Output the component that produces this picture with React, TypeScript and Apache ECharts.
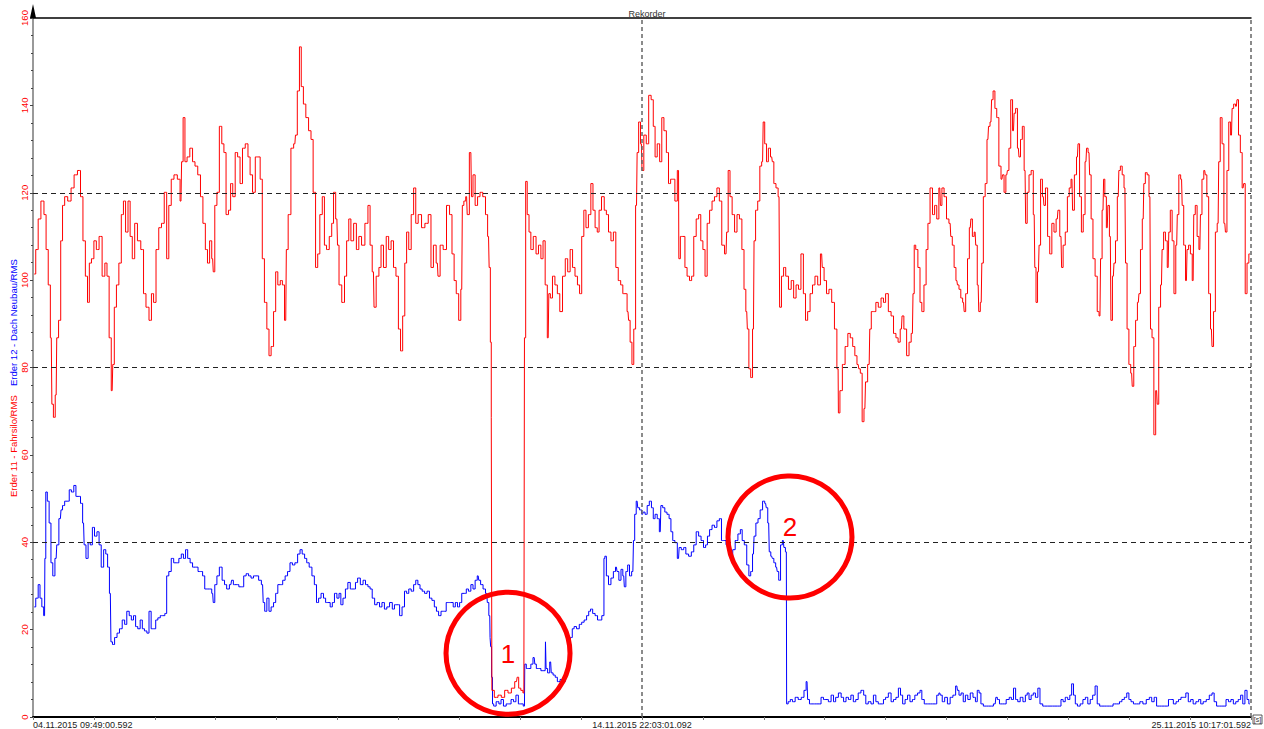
import React, { useEffect, useRef } from "react";
import * as echarts from "echarts";

// x unit = one tick division (span of 20 divisions over the record)
const xTickLabels = ["04.11.2015 09:49:00.592", "14.11.2015 22:03:01.092", "25.11.2015 10:17:01.592"];
const xLabelAt = [0, 10, 20];
const guideLevels = [40, 80, 120];
const cursorAt = 10;
const rightEdgeAt = 20;
const redName = "Erder 11 - Fahrsilo/RMS";
const blueName = "Erder 12 - Dach Neubau/RMS";

// Erder 11 - Fahrsilo/RMS  [t, value]
const erder11: number[][] = [
  [0.02,101.4],[0.07,107],[0.10,114],[0.16,118.1],[0.20,115],[0.23,107],[0.27,98.9],[0.30,86.8],[0.32,71.6],[0.35,68.6],[0.38,73.7],[0.40,86.8],[0.44,90.8],[0.47,109],[0.50,117.1],[0.54,119.1],[0.60,118.1],[0.65,121.1],[0.70,124.1],[0.76,125.1],[0.80,119.1],[0.84,109],[0.88,100.9],[0.91,94.9],[0.94,103.9],[0.98,104.9],[1.02,109],[1.06,107],[1.11,110],[1.16,100.9],[1.20,103.9],[1.23,100.9],[1.27,86.8],[1.30,74.7],[1.32,80.7],[1.35,93.8],[1.39,98.9],[1.43,103.9],[1.47,115],[1.50,118.1],[1.54,111],[1.58,118.1],[1.61,110],[1.65,104.9],[1.69,113],[1.74,109],[1.80,107],[1.83,96.9],[1.88,93.8],[1.93,90.8],[1.96,96.9],[2.00,94.9],[2.04,107],[2.09,112],[2.13,113],[2.18,120.1],[2.21,104.9],[2.25,117.1],[2.29,123.1],[2.34,124.1],[2.40,123.1],[2.43,118.1],[2.45,127.1],[2.48,137.2],[2.51,127.1],[2.55,128.2],[2.60,130.2],[2.64,127.1],[2.68,126.1],[2.73,124.1],[2.77,119.1],[2.81,113],[2.85,107],[2.88,103.9],[2.92,109],[2.95,104.9],[2.97,101.9],[3.00,117.1],[3.04,120.1],[3.08,135.2],[3.12,131.2],[3.15,129.2],[3.19,115],[3.23,116],[3.26,122.1],[3.30,119.1],[3.34,129.2],[3.38,128.2],[3.42,122.1],[3.46,130.2],[3.51,131.2],[3.55,128.2],[3.58,124.1],[3.63,120.1],[3.67,128.2],[3.71,128.2],[3.75,123.1],[3.78,104.9],[3.82,94.9],[3.86,88.8],[3.89,82.7],[3.93,84.8],[3.97,92.8],[4.00,101.9],[4.04,98.9],[4.08,99.9],[4.11,98.9],[4.15,90.8],[4.17,107],[4.21,115],[4.26,130.2],[4.30,131.2],[4.32,133.2],[4.36,143.3],[4.39,153.4],[4.42,144.3],[4.46,140.3],[4.50,137.2],[4.55,134.2],[4.58,132.2],[4.62,120.1],[4.66,102.9],[4.69,106],[4.73,115],[4.77,119.1],[4.80,108],[4.84,107],[4.89,110],[4.92,113],[4.95,120.1],[4.99,114],
  [5.01,108],[5.04,98.9],[5.10,94.9],[5.13,100.9],[5.17,109],[5.20,114],[5.24,109],[5.29,113],[5.33,107],[5.37,110],[5.42,108],[5.48,113],[5.52,117.1],[5.55,108],[5.59,101.9],[5.61,93.8],[5.66,100.9],[5.70,102.9],[5.73,108],[5.78,102.9],[5.82,110],[5.86,107],[5.90,109],[5.94,102.9],[5.98,100.9],[6.02,88.8],[6.05,83.8],[6.09,91.8],[6.12,103.9],[6.15,111],[6.19,107],[6.23,115],[6.27,121.1],[6.30,113],[6.35,115],[6.41,112],[6.46,113],[6.52,115],[6.55,102.9],[6.60,108],[6.64,103.9],[6.66,100.9],[6.71,108],[6.76,107],[6.82,117.1],[6.86,115],[6.90,106],[6.93,99.9],[6.97,96.9],[7.01,90.8],[7.04,97.9],[7.06,117.1],[7.09,118.1],[7.12,119.1],[7.14,115],[7.19,129.2],[7.21,119.1],[7.24,124.1],[7.28,117.1],[7.32,119.1],[7.36,120.1],[7.41,119.1],[7.45,115],[7.48,110],[7.50,102.9],[7.52,85.8],[7.53,68.6],[7.54,6.1],[7.61,4.5],[7.66,5],[7.72,4.5],[7.77,6.1],[7.83,5.5],[7.88,6.6],[7.94,8.1],[7.96,9.1],[7.99,6.6],[8.03,6.1],[8.06,5.5],[8.08,86.8],[8.10,122.6],[8.13,115],[8.16,111],[8.19,107],[8.24,110],[8.28,106],[8.32,108],[8.36,104.9],[8.39,109],[8.43,98.9],[8.46,86.8],[8.48,96.9],[8.51,95.9],[8.55,100.9],[8.59,98.9],[8.63,96.9],[8.67,92.8],[8.72,100.9],[8.76,104.9],[8.80,101.9],[8.84,107],[8.88,102.9],[8.92,100.9],[8.96,98.9],[8.99,96.9],[9.03,110],[9.06,116],[9.10,112],[9.14,115],[9.18,122.1],[9.21,116],[9.25,112],[9.28,111],[9.31,116],[9.36,119.1],[9.40,116],[9.43,115],[9.47,111],[9.51,109],[9.55,111],[9.59,102.9],[9.63,99.9],[9.67,98.9],[9.70,96.9],[9.74,96.9],[9.77,92.8],[9.79,90.8],[9.82,85.8],[9.85,80.7],[9.88,88.8],[9.91,117.1],[9.93,129.2],[9.96,136.2],[9.99,131.2],[10.01,125.1],
  [10.05,133.2],[10.09,131.2],[10.13,142.3],[10.17,141.3],[10.20,135.2],[10.23,128.2],[10.27,131.2],[10.31,127.1],[10.34,137.2],[10.38,134.2],[10.42,129.2],[10.45,122.1],[10.49,123.1],[10.52,123.1],[10.56,118.1],[10.60,125.1],[10.61,104.9],[10.65,110],[10.69,110],[10.72,102.9],[10.76,100.9],[10.80,99.9],[10.83,100.9],[10.87,110],[10.91,114],[10.95,115],[10.98,109],[11.02,107],[11.05,100.9],[11.09,113],[11.13,116],[11.17,118.1],[11.21,119.1],[11.25,121.1],[11.29,118.1],[11.33,108],[11.38,106],[11.40,111],[11.43,125.1],[11.46,119.1],[11.50,115],[11.54,111],[11.58,115],[11.62,114],[11.66,107],[11.69,97.9],[11.72,92.8],[11.74,88.8],[11.77,79.7],[11.80,77.7],[11.83,88.8],[11.85,109],[11.88,116],[11.92,118.1],[11.95,126.1],[11.98,127.1],[12.00,136.2],[12.03,131.2],[12.06,127.1],[12.09,130.2],[12.13,128.2],[12.15,127.1],[12.18,122.1],[12.22,121.1],[12.25,119.1],[12.27,93.8],[12.31,100.9],[12.34,102.9],[12.38,100.9],[12.43,97.9],[12.47,99.9],[12.51,95.9],[12.55,98.9],[12.59,97.9],[12.63,106],[12.67,96.9],[12.70,90.8],[12.74,92.8],[12.78,96.9],[12.82,98.9],[12.86,100.9],[12.91,98.9],[12.95,106],[12.97,102.9],[13.01,99.9],[13.05,96.9],[13.09,97.9],[13.14,94.9],[13.18,88.8],[13.22,79.7],[13.23,69.6],[13.27,74.7],[13.31,80.7],[13.36,84.8],[13.40,87.8],[13.44,86.8],[13.48,84.8],[13.51,82.7],[13.55,80.7],[13.57,79.7],[13.60,78.7],[13.63,67.6],[13.66,70.6],[13.68,76.7],[13.73,80.7],[13.75,88.8],[13.78,92.8],[13.82,92.8],[13.86,94.9],[13.90,93.8],[13.95,95.9],[13.98,94.9],[14.02,96.9],[14.07,92.8],[14.11,91.8],[14.15,87.8],[14.19,86.8],[14.22,85.8],[14.26,88.8],[14.28,91.8],[14.32,88.8],[14.37,82.7],[14.40,85.8],[14.44,87.8],[14.46,96.9],[14.48,108],[14.51,107],[14.55,102.9],[14.58,94.9],[14.61,92.8],[14.65,98.9],[14.68,107],[14.71,113],[14.75,121.1],[14.79,115],[14.82,117.1],[14.86,114],[14.89,121.1],[14.91,117.1],[14.94,121.1],[14.98,119.1],[15.02,114],
  [15.06,113],[15.08,110],[15.11,108],[15.14,102.9],[15.17,99.9],[15.19,98.9],[15.22,97.9],[15.25,95.9],[15.28,94.9],[15.30,92.8],[15.33,96.9],[15.36,104.9],[15.39,112],[15.41,114],[15.44,110],[15.47,111],[15.49,108],[15.52,98.9],[15.54,92.8],[15.57,94.9],[15.59,103.9],[15.62,119.1],[15.65,122.1],[15.68,132.2],[15.70,135.2],[15.73,136.2],[15.75,141.3],[15.78,143.3],[15.81,139.3],[15.84,137.2],[15.88,126.1],[15.91,123.1],[15.93,124.1],[15.96,120.1],[15.99,124.1],[16.01,125.1],[16.04,130.2],[16.07,141.3],[16.10,134.2],[16.12,138.2],[16.15,139.3],[16.18,130.2],[16.20,128.2],[16.23,132.2],[16.26,135.2],[16.29,125.1],[16.31,113],[16.34,120.1],[16.37,124.1],[16.41,125.1],[16.44,115],[16.46,102.9],[16.48,94.9],[16.51,101.9],[16.53,108],[16.56,123.1],[16.59,119.1],[16.61,117.1],[16.64,121.1],[16.68,110],[16.71,106],[16.75,113],[16.78,111],[16.82,114],[16.84,116],[16.88,110],[16.90,102.9],[16.93,108],[16.97,111],[17.00,119.1],[17.03,121.1],[17.06,123.1],[17.08,116],[17.12,124.1],[17.15,128.2],[17.17,131.2],[17.20,119.1],[17.23,111],[17.26,115],[17.29,127.1],[17.31,130.2],[17.34,129.2],[17.36,124.1],[17.39,114],[17.42,104.9],[17.46,100.9],[17.49,92.8],[17.52,91.8],[17.54,104.9],[17.57,116],[17.59,123.1],[17.61,119.1],[17.64,112],[17.66,117.1],[17.69,110],[17.71,90.8],[17.74,100.9],[17.76,103.9],[17.79,109],[17.82,119.1],[17.84,125.1],[17.87,126.1],[17.90,124.1],[17.93,121.1],[17.95,103.9],[17.98,88.8],[18.01,80.7],[18.04,78.7],[18.06,75.7],[18.09,84.8],[18.12,90.8],[18.15,94.9],[18.17,96.9],[18.20,107],[18.23,114],[18.25,122.1],[18.28,124.6],[18.31,124.1],[18.34,119.1],[18.36,88.8],[18.39,86.8],[18.42,64.6],[18.45,74.7],[18.47,71.6],[18.50,93.8],[18.53,98.9],[18.55,107],[18.58,111],[18.61,109],[18.64,102.9],[18.66,111],[18.69,116],[18.72,109],[18.75,96.9],[18.78,108],[18.80,115],[18.83,124.1],[18.86,123.1],[18.88,117.1],[18.91,108],[18.94,99.9],[18.96,107],[18.99,108],[19.02,106],[19.05,99.9],[19.07,115],[19.10,117.1],[19.13,110],[19.16,107],[19.18,115],[19.21,123.1],[19.24,125.1],[19.26,124.1],[19.29,119.1],[19.32,96.9],[19.35,88.8],[19.37,84.8],[19.40,92.8],[19.43,111],[19.46,113],[19.48,127.1],[19.51,137.2],[19.54,131.2],[19.57,113],[19.59,111],[19.62,125.1],[19.65,136.2],[19.68,133.2],[19.70,139.3],[19.73,140.3],[19.76,139.8],[19.78,141.3],[19.81,133.2],[19.84,129.2],[19.87,121.1],[19.89,122.1],[19.92,96.9],[19.95,103.9],[19.98,106]
];

// Erder 12 - Dach Neubau/RMS  [t, value]
const erder12: number[][] = [
  [0.02,25.2],[0.07,27.2],[0.10,30.3],[0.13,27.2],[0.16,25.2],[0.19,23.2],[0.20,36.3],[0.22,51.5],[0.25,49.4],[0.28,44.4],[0.31,35.3],[0.34,32.3],[0.38,36.3],[0.40,39.4],[0.45,45.4],[0.47,47.4],[0.50,48.4],[0.54,49.4],[0.58,49.4],[0.61,52],[0.65,51.5],[0.69,53],[0.72,50.5],[0.76,50.5],[0.80,48.9],[0.83,44.4],[0.85,39.4],[0.89,36.3],[0.92,39.9],[0.96,39.4],[0.99,43.4],[1.03,41.4],[1.07,42.4],[1.10,39.4],[1.14,34.3],[1.18,38.3],[1.21,37.3],[1.24,34.3],[1.27,28.3],[1.29,17.2],[1.32,16.6],[1.36,18.2],[1.40,19.2],[1.44,20.2],[1.49,22.2],[1.52,21.2],[1.56,24.2],[1.60,23.2],[1.63,22.2],[1.67,23.2],[1.70,20.7],[1.74,20.2],[1.78,22.2],[1.81,20.2],[1.85,19.7],[1.89,19.2],[1.92,24.2],[1.96,20.2],[2.00,20.2],[2.03,22.2],[2.07,22.7],[2.11,23.2],[2.15,23.2],[2.18,23.7],[2.21,32.3],[2.25,33.3],[2.29,36.3],[2.33,35.3],[2.37,35.3],[2.42,36.3],[2.45,37.3],[2.49,36.3],[2.52,38.3],[2.56,36.3],[2.60,35.3],[2.64,34.3],[2.69,34.3],[2.73,33.3],[2.77,33.3],[2.80,32.3],[2.84,29.3],[2.87,29.3],[2.92,29.3],[2.95,28.3],[2.97,26.2],[3.00,30.3],[3.04,32.3],[3.08,34.3],[3.13,31.3],[3.16,30.3],[3.20,29.3],[3.25,30.3],[3.27,31.3],[3.31,30.3],[3.36,30.3],[3.40,29.8],[3.44,29.8],[3.48,32.3],[3.52,32.8],[3.56,32.3],[3.60,31.8],[3.64,32.3],[3.68,32.3],[3.73,31.3],[3.77,30.3],[3.79,26.2],[3.82,24.2],[3.86,27.2],[3.89,24.2],[3.93,25.2],[3.97,26.2],[4.00,28.3],[4.04,30.3],[4.08,30.3],[4.12,31.3],[4.16,32.3],[4.20,33.3],[4.24,35.3],[4.28,34.8],[4.32,35.3],[4.37,37.3],[4.40,38.3],[4.44,37.3],[4.48,36.3],[4.51,35.3],[4.56,34.3],[4.60,32.3],[4.64,30.3],[4.67,26.2],[4.71,27.2],[4.75,28.3],[4.79,27.2],[4.82,26.2],[4.86,26.2],[4.90,25.2],[4.93,26.2],[4.97,28.3],[5.01,27.2],[5.04,28.3],
  [5.07,25.7],[5.11,27.2],[5.15,29.3],[5.19,30.8],[5.23,29.3],[5.28,29.3],[5.31,30.8],[5.35,31.8],[5.40,30.3],[5.44,31.3],[5.48,30.3],[5.52,29.8],[5.55,29.3],[5.59,27.2],[5.63,25.7],[5.67,26.2],[5.71,25.2],[5.75,26.2],[5.79,24.7],[5.83,25.2],[5.88,26.2],[5.92,24.7],[5.95,25.7],[6.00,25.7],[6.04,23.2],[6.08,25.2],[6.12,28.8],[6.15,28.3],[6.19,29.3],[6.23,28.8],[6.27,30.3],[6.30,31.3],[6.34,30.3],[6.37,29.3],[6.41,28.8],[6.45,28.3],[6.49,28.8],[6.53,27.2],[6.57,26.7],[6.61,25.2],[6.64,24.2],[6.68,23.2],[6.72,24.2],[6.76,24.2],[6.81,26.2],[6.84,26.2],[6.88,26.2],[6.92,25.2],[6.95,26.2],[6.99,25.2],[7.02,26.2],[7.06,28.3],[7.10,28.3],[7.13,29.3],[7.17,28.8],[7.21,30.3],[7.24,29.3],[7.28,31.3],[7.31,32.3],[7.33,31.3],[7.37,30.3],[7.41,29.3],[7.45,28.3],[7.47,26.2],[7.50,23.2],[7.51,18.2],[7.52,16.1],[7.54,9.1],[7.55,3],[7.58,2.5],[7.63,3.5],[7.67,3],[7.70,4],[7.75,2.5],[7.79,3],[7.83,3],[7.87,4],[7.91,3.5],[7.95,5],[7.99,3],[8.03,3],[8.07,2.5],[8.08,12.1],[8.12,11.1],[8.16,11.1],[8.19,12.1],[8.23,13.6],[8.25,12.1],[8.28,11.1],[8.32,11.1],[8.36,10.6],[8.39,10.6],[8.41,10.6],[8.42,17.2],[8.43,11.1],[8.47,10.1],[8.50,12.6],[8.52,10.1],[8.56,9.6],[8.59,9.1],[8.63,8.1],[8.68,8.6],[8.72,8.1],[8.76,10.1],[8.78,11.1],[8.81,14.1],[8.84,18.2],[8.87,20.2],[8.90,20.7],[8.95,20.2],[8.99,21.2],[9.03,21.7],[9.07,22.2],[9.11,23.2],[9.14,24.2],[9.17,24.7],[9.21,23.7],[9.25,23.2],[9.29,22.2],[9.32,22.2],[9.36,23.2],[9.37,23.2],[9.38,36.3],[9.40,36.8],[9.43,32.3],[9.47,30.3],[9.51,31.8],[9.55,33.3],[9.58,34.3],[9.60,33.3],[9.64,31.3],[9.67,33.8],[9.70,32.3],[9.72,29.8],[9.75,33.3],[9.78,34.8],[9.81,32.3],[9.85,33.3],[9.87,40.4],[9.89,46.4],[9.92,49.4],[9.94,47.9],[9.98,47.4],[10.01,46.4],
  [10.03,46.9],[10.07,46.4],[10.10,48.4],[10.14,49.4],[10.17,47.9],[10.20,45.4],[10.23,46.4],[10.27,45.4],[10.30,42.4],[10.32,48.4],[10.36,47.9],[10.39,46.9],[10.43,46.4],[10.46,45.4],[10.49,42.4],[10.52,40.4],[10.56,39.9],[10.60,36.3],[10.62,38.8],[10.67,38.3],[10.70,38.8],[10.74,37.3],[10.79,36.8],[10.83,37.8],[10.87,39.4],[10.91,42.4],[10.95,41.4],[10.99,40.4],[11.03,38.8],[11.06,39.4],[11.09,41.4],[11.13,42.9],[11.17,43.9],[11.21,43.4],[11.25,44.9],[11.29,45.4],[11.32,40.4],[11.36,40.4],[11.40,39.4],[11.43,38.3],[11.47,36.3],[11.51,38.3],[11.55,40.4],[11.60,41.9],[11.63,42.9],[11.66,40.4],[11.70,39.4],[11.74,34.8],[11.77,32.3],[11.80,33.3],[11.83,37.3],[11.85,41.4],[11.89,44.4],[11.92,45.4],[11.96,47.4],[12.00,49.4],[12.03,48.9],[12.05,47.9],[12.08,44.4],[12.10,37.8],[12.13,36.8],[12.15,36.3],[12.18,35.3],[12.21,34.3],[12.23,33.3],[12.26,31.3],[12.29,39.4],[12.32,40.4],[12.34,38.8],[12.37,37.8],[12.38,3],[12.42,3.5],[12.45,4],[12.49,3.5],[12.54,4.5],[12.59,4],[12.64,4.5],[12.68,6.1],[12.71,8.1],[12.73,4],[12.77,3],[12.81,3],[12.86,3],[12.92,3],[12.96,4.5],[13.00,4],[13.04,4],[13.08,3.5],[13.13,5],[13.16,3.5],[13.20,4.5],[13.25,5.5],[13.29,4.5],[13.33,3.5],[13.37,4.5],[13.41,4],[13.45,5],[13.49,3.5],[13.53,4],[13.57,5.5],[13.62,6.1],[13.66,5],[13.69,3],[13.74,3.5],[13.78,3],[13.82,5],[13.86,3.5],[13.90,3],[13.95,3],[13.98,4],[14.02,4.5],[14.07,5.5],[14.11,3.5],[14.15,4],[14.19,4.5],[14.23,6.6],[14.26,5],[14.30,3],[14.34,4],[14.38,5],[14.42,3.5],[14.46,4],[14.50,5],[14.55,5.5],[14.58,6.1],[14.61,4],[14.66,3],[14.71,3],[14.77,3],[14.82,3],[14.86,5],[14.89,5.5],[14.91,5],[14.95,3.5],[14.99,4.5],[15.04,3],
  [15.08,4.5],[15.13,5],[15.17,7.1],[15.19,6.1],[15.22,5],[15.26,5.5],[15.29,3.5],[15.33,5],[15.37,4],[15.41,5.5],[15.46,4.5],[15.49,3.5],[15.52,6.1],[15.55,5.5],[15.58,3],[15.63,2.5],[15.69,2.5],[15.74,2.5],[15.80,3],[15.82,4.5],[15.85,4],[15.89,3],[15.95,3],[16.01,4],[16.05,4.5],[16.08,4],[16.12,6.6],[16.15,4],[16.19,3.5],[16.23,4.5],[16.28,3.5],[16.31,5],[16.34,5.5],[16.37,4],[16.41,5],[16.44,5.5],[16.48,4.5],[16.52,6.6],[16.55,3],[16.61,2.5],[16.70,2.5],[16.78,2.5],[16.86,2.5],[16.90,4],[16.93,3.5],[16.97,4.5],[17.01,4],[17.04,5],[17.07,7.6],[17.10,5],[17.13,3],[17.17,2.5],[17.22,3],[17.26,4],[17.30,4.5],[17.34,3],[17.38,4],[17.42,5],[17.46,7.1],[17.49,3],[17.54,2.5],[17.60,2.5],[17.65,2.5],[17.71,2.5],[17.76,3],[17.82,3],[17.86,3.5],[17.90,4],[17.94,4.5],[17.98,5.5],[18.01,4],[18.05,3.5],[18.09,3],[18.15,3],[18.20,3.5],[18.25,3],[18.31,4],[18.35,4.5],[18.39,3.5],[18.43,4.5],[18.47,2.5],[18.53,2.5],[18.58,2.5],[18.63,2.5],[18.66,4],[18.70,4],[18.75,3],[18.79,3.5],[18.83,4],[18.87,4.5],[18.91,4.5],[18.95,5.5],[18.99,3.5],[19.03,4],[19.07,3],[19.12,3.5],[19.16,4],[19.19,3],[19.24,3.5],[19.29,4],[19.34,5],[19.38,5.5],[19.41,3.5],[19.46,2.5],[19.51,2.5],[19.57,2.5],[19.61,4],[19.65,3.5],[19.69,4],[19.73,3],[19.77,3.5],[19.81,4],[19.85,5],[19.88,3],[19.92,6.1],[19.95,4],[19.98,3]
];

// red annotation rings, centred in data coordinates
const annotations = [
  { name: "1", value: [7.8, 14.6], labelOffset: [0, 1] },
  { name: "2", value: [12.43, 41.2], labelOffset: [0, -10] },
];

const FONT = '"Liberation Sans", Arial, sans-serif';

export default function App() {
  const ref = useRef<HTMLDivElement>(null);

  useEffect(() => {
    if (!ref.current) return;
    const chart = echarts.init(ref.current, null, { renderer: "svg" });
    chart.setOption({
      animation: false,
      backgroundColor: "#ffffff",
      title: {
        text: "Rekorder",
        left: 642,
        top: 4,
        textAlign: "center",
        textStyle: { fontSize: 9, fontWeight: "normal", color: "#333", fontFamily: FONT },
      },
      grid: { left: 33, right: 13, top: 18, bottom: 12, containLabel: false },
      xAxis: [
        {
          type: "value",
          min: 0,
          max: 20,
          interval: 1,
          axisLine: { onZero: false, lineStyle: { color: "#000", width: 2 } },
          axisTick: { show: true, length: 3, lineStyle: { color: "#777" } },
          splitLine: { show: false },
          axisLabel: {
            fontSize: 9,
            color: "#222",
            margin: 3,
            fontFamily: FONT,
            showMinLabel: true,
            showMaxLabel: true,
            alignMinLabel: "left",
            alignMaxLabel: "right",
            formatter: (v: number) => {
              const i = xLabelAt.indexOf(Math.round(v));
              return i >= 0 && Math.abs(v - Math.round(v)) < 1e-6 ? xTickLabels[i] : "";
            },
          },
        },
        {
          type: "value",
          position: "top",
          min: 0,
          max: 20,
          axisLine: { show: true, onZero: false, lineStyle: { color: "#000", width: 1.5 } },
          axisTick: { show: false },
          axisLabel: { show: false },
          splitLine: { show: false },
        },
      ],
      yAxis: {
        type: "value",
        min: 0,
        max: 160,
        interval: 20,
        axisLine: { show: true, onZero: false, lineStyle: { color: "#999", width: 2 } },
        axisTick: { show: true, length: 3, lineStyle: { color: "#444" } },
        minorTick: { show: true, splitNumber: 5, length: 2, lineStyle: { color: "#444" } },
        splitLine: { show: false },
        axisLabel: { rotate: 90, color: "#ff0000", fontSize: 9.5, margin: 4, fontFamily: FONT },
      },
      graphic: [
        {
          type: "text",
          x: 13,
          y: 497,
          rotation: Math.PI / 2,
          style: { text: redName, fill: "#ff0000", font: `9.5px ${FONT}`, textAlign: "left", textVerticalAlign: "middle" },
        },
        {
          type: "text",
          x: 13,
          y: 386,
          rotation: Math.PI / 2,
          style: { text: blueName, fill: "#0000ff", font: `9.5px ${FONT}`, textAlign: "left", textVerticalAlign: "middle" },
        },
        {
          type: "polygon",
          shape: { points: [[33, 4], [30, 18], [36, 18]] },
          style: { fill: "#000" },
          z: 20,
        },
        {
          type: "rect",
          shape: { x: 1253, y: 715, width: 9, height: 9 },
          style: { fill: "#fff", stroke: "#333", lineWidth: 0.8 },
          z: 20,
        },
        {
          type: "text",
          x: 1257.5,
          y: 719.5,
          style: { text: "[s]", fill: "#333", font: `7px ${FONT}`, textAlign: "center", textVerticalAlign: "middle" },
          z: 21,
        },
      ],
      series: [
        {
          name: blueName,
          type: "line",
          data: erder12,
          step: "middle",
          showSymbol: false,
          symbol: "none",
          lineStyle: { color: "#0000ff", width: 1 },
          z: 2,
          silent: true,
          markLine: {
            silent: true,
            symbol: ["none", "none"],
            label: { show: false },
            data: [
              ...guideLevels.map((v) => ({ yAxis: v, lineStyle: { type: [5, 4], color: "#222", width: 1 } })),
              { xAxis: cursorAt, lineStyle: { type: [4, 3], color: "#666", width: 1.5 } },
              { xAxis: rightEdgeAt, lineStyle: { type: [4, 3], color: "#666", width: 1.5 } },
            ],
          },
        },
        {
          name: redName,
          type: "line",
          data: erder11,
          step: "middle",
          showSymbol: false,
          symbol: "none",
          lineStyle: { color: "#ff0000", width: 1 },
          z: 3,
          silent: true,
        },
        {
          type: "scatter",
          data: annotations.map((a) => ({
            name: a.name,
            value: a.value,
            label: { offset: a.labelOffset },
          })),
          symbol: "circle",
          symbolSize: [124, 122],
          itemStyle: { color: "rgba(0,0,0,0)", borderColor: "#ff0000", borderWidth: 5, opacity: 1 },
          label: {
            show: true,
            position: "inside",
            formatter: "{b}",
            fontSize: 26,
            color: "#ff0000",
            fontFamily: FONT,
          },
          z: 10,
          silent: true,
          clip: false,
        },
      ],
    });
    return () => chart.dispose();
  }, []);

  return (
    <div
      ref={ref}
      style={{ position: "absolute", left: 0, top: 0, width: 1264, height: 729, background: "#fff" }}
    />
  );
}
